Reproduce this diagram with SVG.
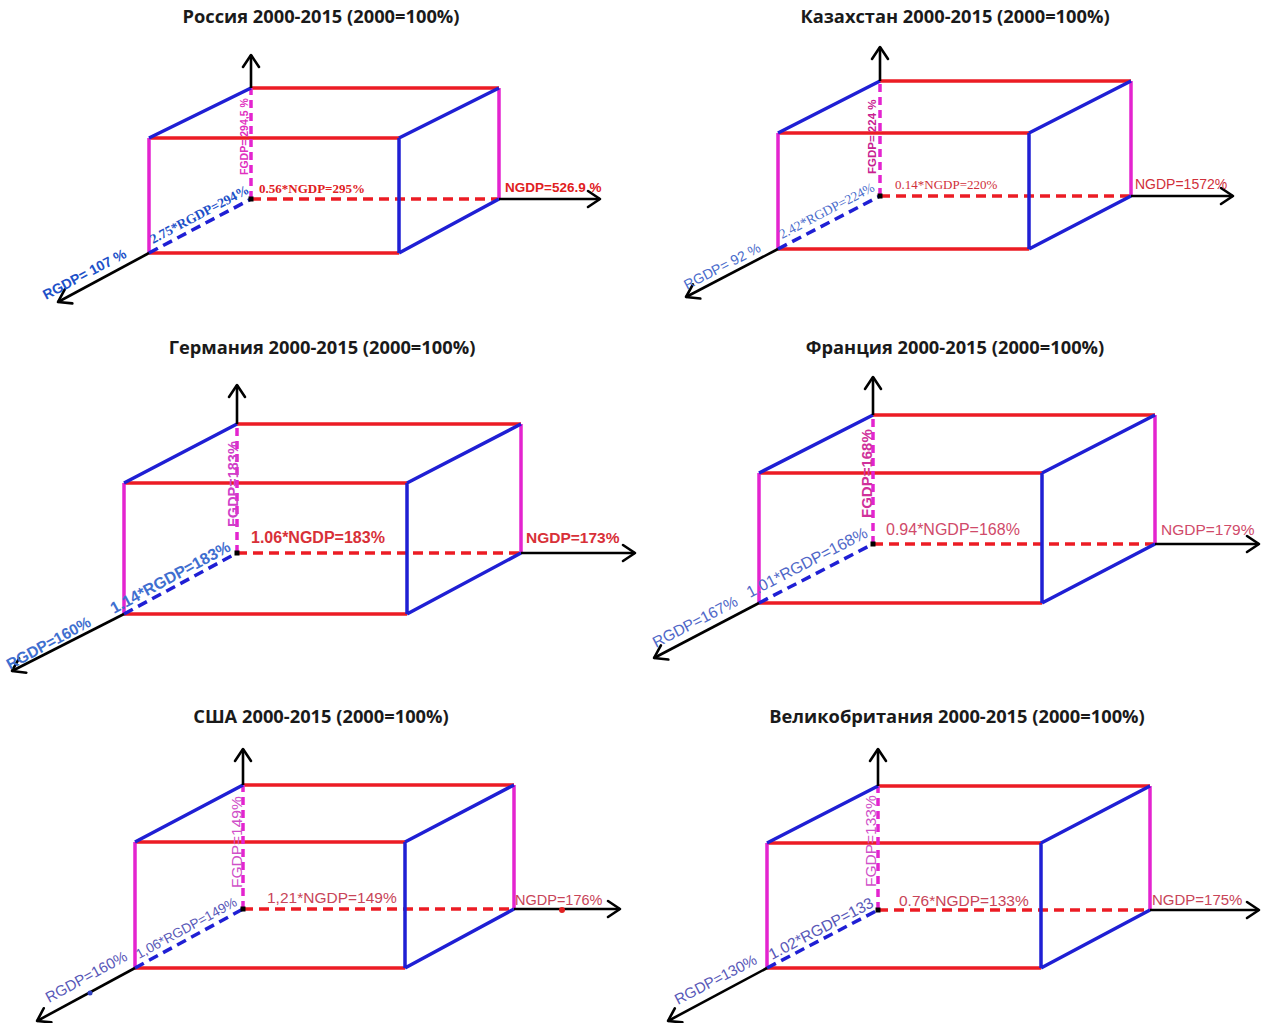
<svg xmlns="http://www.w3.org/2000/svg" width="1266" height="1023" viewBox="0 0 1266 1023">
<defs>
<marker id="arr" markerUnits="userSpaceOnUse" markerWidth="30" markerHeight="30" viewBox="-15 -15 30 30" refX="0" refY="0" orient="auto" overflow="visible">
<path d="M-12,-8 L0,0 L-12,8" fill="none" stroke="#000" stroke-width="2.6" stroke-linecap="round" stroke-linejoin="round"/>
</marker>
<style>
.title{font-family:"Open Sans","Liberation Sans",sans-serif;font-weight:bold;font-size:18.3px;fill:#1a1a1a;text-anchor:middle}
.e{fill:none;stroke-width:3.5}
.r{stroke:#ec1c24}
.b{stroke:#1f1fd4}
.m{stroke:#e424cf}
.d{stroke-dasharray:10 6}
.dm{stroke-dasharray:8 5}
.ax{fill:none;stroke:#000;stroke-width:2.6;marker-end:url(#arr)}
.sb{font-family:"Liberation Sans",Arial,sans-serif;font-weight:bold}
.sr{font-family:"Liberation Sans",Arial,sans-serif}
.fb{font-family:"Liberation Serif","Times New Roman",serif;font-weight:bold}
.fr{font-family:"Liberation Serif","Times New Roman",serif}
</style>
</defs>
<rect width="1266" height="1023" fill="#fff"/>

<!-- Russia -->
<g id="russia">
<text class="title" x="321" y="22.5">Россия 2000-2015 (2000=100%)</text>
<g id="russia-box">
<path class="e r" d="M251,88 H499 M149,138 H399 M149,253 H399"/>
<path class="e r d" d="M251,199 H499"/>
<path class="e m" d="M149,138 V253 M499,88 V199"/>
<path class="e m dm" d="M251,199 V88"/>
<path class="e b" d="M149,138 L251,88 M399,138 L499,88 M399,138 V253 M399,253 L499,199"/>
<path class="e b d" d="M149,253 L251,199"/>
</g>
<g id="russia-axes">
<path class="ax" d="M251,88 V55"/>
<path class="ax" d="M499,199 H600"/>
<path class="ax" d="M149,253 L58,302"/>
<rect x="248.5" y="196.5" width="5" height="5" fill="#000"/>
</g>
<text class="sb" font-size="10.5" fill="#e030c0" transform="translate(248,175) rotate(-90)">FGDP= 294,5 %</text>
<text class="fb" font-size="13" fill="#e0201e" x="259" y="193">0.56*NGDP=295%</text>
<text class="sb" font-size="13.5" fill="#e0201e" x="505" y="192">NGDP=526.9 %</text>
<text class="fb" font-size="13.5" fill="#2050c8" transform="translate(153,244) rotate(-27.9)">2.75*RGDP=294%</text>
<text class="sb" font-size="14" fill="#2050c8" transform="translate(46,300) rotate(-27.9)">RGDP= 107 %</text>
</g>

<!-- Kazakhstan -->
<g id="kazakhstan">
<text class="title" x="955" y="22.5">Казахстан 2000-2015 (2000=100%)</text>
<g id="kazakhstan-box">
<path class="e r" d="M880,81 H1131 M778,133 H1029 M778,249 H1029"/>
<path class="e r d" d="M880,196 H1131"/>
<path class="e m" d="M778,133 V249 M1131,81 V196"/>
<path class="e m dm" d="M880,196 V81"/>
<path class="e b" d="M778,133 L880,81 M1029,133 L1131,81 M1029,133 V249 M1029,249 L1131,196"/>
<path class="e b d" d="M778,249 L880,196"/>
</g>
<g id="kazakhstan-axes">
<path class="ax" d="M880,81 V47"/>
<path class="ax" d="M1131,196 H1233"/>
<path class="ax" d="M778,249 L686,297"/>
<rect x="877.5" y="193.5" width="5" height="5" fill="#000"/>
</g>
<text class="sb" font-size="11.5" fill="#c82090" transform="translate(876,174) rotate(-90)">FGDP= 224 %</text>
<text class="fr" font-size="13" fill="#d0303a" x="895" y="189">0.14*NGDP=220%</text>
<text class="sr" font-size="14" fill="#d0303a" x="1135" y="189">NGDP=1572%</text>
<text class="fr" font-size="13.5" fill="#4a6ccc" transform="translate(782,239) rotate(-27.5)">2.42*RGDP=224%</text>
<text class="sr" font-size="14" fill="#4a6ccc" transform="translate(687,290) rotate(-27.5)">RGDP= 92 %</text>
</g>

<!-- Germany -->
<g id="germany">
<text class="title" x="322" y="353.5">Германия 2000-2015 (2000=100%)</text>
<g id="germany-box">
<path class="e r" d="M237,424 H521 M124,483 H407 M124,614 H407"/>
<path class="e r d" d="M237,553 H521"/>
<path class="e m" d="M124,483 V614 M521,424 V553"/>
<path class="e m dm" d="M237,553 V424"/>
<path class="e b" d="M124,483 L237,424 M407,483 L521,424 M407,483 V614 M407,614 L521,553"/>
<path class="e b d" d="M124,614 L237,553"/>
</g>
<g id="germany-axes">
<path class="ax" d="M237,424 V385"/>
<path class="ax" d="M521,553 H635"/>
<path class="ax" d="M124,614 L12,671"/>
<rect x="234.5" y="550.5" width="5" height="5" fill="#000"/>
</g>
<text class="sb" font-size="14.5" fill="#d040c8" transform="translate(238,527) rotate(-90)">FGDP=183%</text>
<text class="sb" font-size="16" fill="#d83038" x="251" y="543">1.06*NGDP=183%</text>
<text class="sb" font-size="15.5" fill="#d83038" x="526" y="543">NGDP=173%</text>
<text class="sb" font-size="16" fill="#3f6fd0" transform="translate(114,614) rotate(-28.4)">1.14*RGDP=183%</text>
<text class="sb" font-size="15.5" fill="#3f6fd0" transform="translate(10,670) rotate(-28.4)">RGDP=160%</text>
</g>

<!-- France -->
<g id="france">
<text class="title" x="955" y="353.5">Франция 2000-2015 (2000=100%)</text>
<g id="france-box">
<path class="e r" d="M873,415 H1155 M759,473 H1042 M759,603 H1042"/>
<path class="e r d" d="M873,544 H1155"/>
<path class="e m" d="M759,473 V603 M1155,415 V544"/>
<path class="e m dm" d="M873,544 V415"/>
<path class="e b" d="M759,473 L873,415 M1042,473 L1155,415 M1042,473 V603 M1042,603 L1155,544"/>
<path class="e b d" d="M759,603 L873,544"/>
</g>
<g id="france-axes">
<path class="ax" d="M873,415 V377"/>
<path class="ax" d="M1155,544 H1259"/>
<path class="ax" d="M759,603 L654,658"/>
<rect x="870.5" y="541.5" width="5" height="5" fill="#000"/>
</g>
<text class="sb" font-size="15" fill="#d0309a" transform="translate(872,518) rotate(-90)">FGDP=168%</text>
<text class="sr" font-size="16" fill="#d04a6a" x="886" y="535">0.94*NGDP=168%</text>
<text class="sr" font-size="15.5" fill="#d04a6a" x="1161" y="535">NGDP=179%</text>
<text class="sr" font-size="16" fill="#5068c8" transform="translate(750,598) rotate(-27.4)">1.01*RGDP=168%</text>
<text class="sr" font-size="15.5" fill="#5068c8" transform="translate(656,648) rotate(-27.4)">RGDP=167%</text>
</g>

<!-- USA -->
<g id="usa">
<text class="title" x="321" y="722.5">США 2000-2015 (2000=100%)</text>
<g id="usa-box">
<path class="e r" d="M243,785 H514 M135,842 H405 M135,968 H405"/>
<path class="e r d" d="M243,909 H514"/>
<path class="e m" d="M135,842 V968 M514,785 V909"/>
<path class="e m dm" d="M243,909 V785"/>
<path class="e b" d="M135,842 L243,785 M405,842 L514,785 M405,842 V968 M405,968 L514,909"/>
<path class="e b d" d="M135,968 L243,909"/>
</g>
<g id="usa-axes">
<path class="ax" d="M243,785 V749"/>
<path class="ax" d="M514,909 H620"/>
<path class="ax" d="M135,968 L37,1021"/>
<rect x="240.5" y="906.5" width="5" height="5" fill="#000"/>
<circle cx="562" cy="910" r="3" fill="#e02020"/>
<circle cx="90" cy="993" r="2.5" fill="#3040c0"/>
</g>
<text class="sr" font-size="15.5" fill="#d050c8" transform="translate(242,888) rotate(-90)">FGDP=149%</text>
<text class="sr" font-size="15.5" fill="#c84458" x="267" y="903">1,21*NGDP=149%</text>
<text class="sr" font-size="14.5" fill="#c84458" x="515" y="905">NGDP=176%</text>
<text class="sr" font-size="13.5" fill="#5858b8" transform="translate(139,959) rotate(-28.6)">1,06*RGDP=149%</text>
<text class="sr" font-size="15" fill="#5858b8" transform="translate(49,1003) rotate(-28.6)">RGDP=160%</text>
</g>

<!-- UK -->
<g id="uk">
<text class="title" x="957" y="722.5">Великобритания 2000-2015 (2000=100%)</text>
<g id="uk-box">
<path class="e r" d="M878,786 H1150 M767,843 H1041 M767,968 H1041"/>
<path class="e r d" d="M878,910 H1150"/>
<path class="e m" d="M767,843 V968 M1150,786 V910"/>
<path class="e m dm" d="M878,910 V786"/>
<path class="e b" d="M767,843 L878,786 M1041,843 L1150,786 M1041,843 V968 M1041,968 L1150,910"/>
<path class="e b d" d="M767,968 L878,910"/>
</g>
<g id="uk-axes">
<path class="ax" d="M878,786 V749"/>
<path class="ax" d="M1150,910 H1259"/>
<path class="ax" d="M767,968 L668,1021"/>
<rect x="875.5" y="907.5" width="5" height="5" fill="#000"/>
</g>
<text class="sr" font-size="15.5" fill="#d050c8" transform="translate(876,887) rotate(-90)">FGDP=133%</text>
<text class="sr" font-size="15.5" fill="#c84458" x="899" y="906">0.76*NGDP=133%</text>
<text class="sr" font-size="15" fill="#c84458" x="1152" y="905">NGDP=175%</text>
<text class="sr" font-size="15.5" fill="#5858b8" transform="translate(772,960) rotate(-27.6)">1.02*RGDP=133</text>
<text class="sr" font-size="15" fill="#5858b8" transform="translate(678,1005) rotate(-27.6)">RGDP=130%</text>
</g>
</svg>
